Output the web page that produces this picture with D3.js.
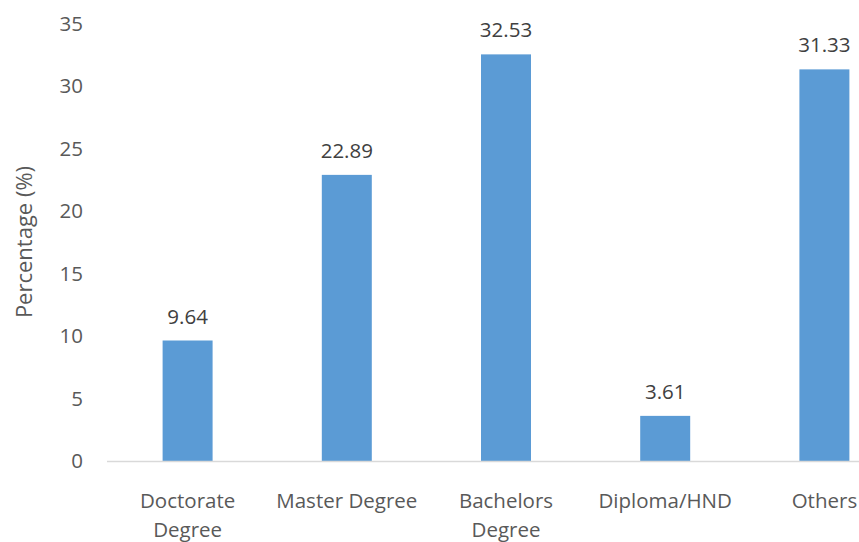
<!DOCTYPE html>
<html>
<head>
<meta charset="utf-8">
<script src="https://cdn.jsdelivr.net/npm/d3@7"></script>
<style>
  html, body { margin: 0; padding: 0; background: #fff; }
  svg { display: block; font-family: "Open Sans", sans-serif; }
</style>
</head>
<body>
<svg id="chart" width="859" height="542"></svg>
<script>
// Education level distribution (%)
const categories = [["Doctorate", "Degree"], ["Master Degree"], ["Bachelors", "Degree"], ["Diploma/HND"], ["Others"]];
const values = [9.64, 22.89, 32.53, 3.61, 31.33];
const yTicks = [0, 5, 10, 15, 20, 25, 30, 35];
const yTitle = "Percentage (%)";

const svg = d3.select("#chart");
const keys = categories.map(c => c.join(" "));

const x = d3.scaleBand()
  .domain(keys)
  .range([108, 904])
  .paddingInner(0.686)
  .paddingOuter(0.343);

const y = d3.scaleLinear()
  .domain([0, 35])
  .range([461, 23.5]);

// y tick labels (no axis line, no gridlines)
svg.append("g")
  .selectAll("text")
  .data(yTicks)
  .join("text")
  .attr("x", 83)
  .attr("y", d => y(d))
  .attr("dy", "0.35em")
  .attr("text-anchor", "end")
  .attr("fill", "#595959")
  .style("font-size", "20.5px")
  .text(d => d);

// bars
svg.append("g")
  .selectAll("rect")
  .data(values)
  .join("rect")
  .attr("x", (d, i) => x(keys[i]))
  .attr("width", x.bandwidth())
  .attr("y", d => y(d))
  .attr("height", d => y(0) - y(d))
  .attr("fill", "#5b9bd5");

// baseline
svg.append("line")
  .attr("x1", 107).attr("x2", 859)
  .attr("y1", y(0) + 0.5).attr("y2", y(0) + 0.5)
  .attr("stroke", "#d9d9d9")
  .attr("stroke-width", 1.5);

// value labels
svg.append("g")
  .selectAll("text")
  .data(values)
  .join("text")
  .attr("x", (d, i) => x(keys[i]) + x.bandwidth() / 2)
  .attr("y", d => y(d) - 17)
  .attr("text-anchor", "middle")
  .attr("fill", "#404040")
  .style("font-size", "20.5px")
  .text(d => d.toFixed(2));

// category labels
const cat = svg.append("g")
  .selectAll("text")
  .data(categories)
  .join("text")
  .attr("text-anchor", "middle")
  .attr("fill", "#595959")
  .style("font-size", "20.5px")
  .attr("transform", (d, i) => `translate(${x(keys[i]) + x.bandwidth() / 2},508)`);
cat.selectAll("tspan")
  .data(d => d)
  .join("tspan")
  .attr("x", 0)
  .attr("y", (d, j) => j * 29)
  .text(d => d);

// y axis title
svg.append("text")
  .attr("transform", "translate(32,242) rotate(-90)")
  .attr("text-anchor", "middle")
  .attr("fill", "#595959")
  .style("font-size", "22px")
  .text(yTitle);
</script>
</body>
</html>
